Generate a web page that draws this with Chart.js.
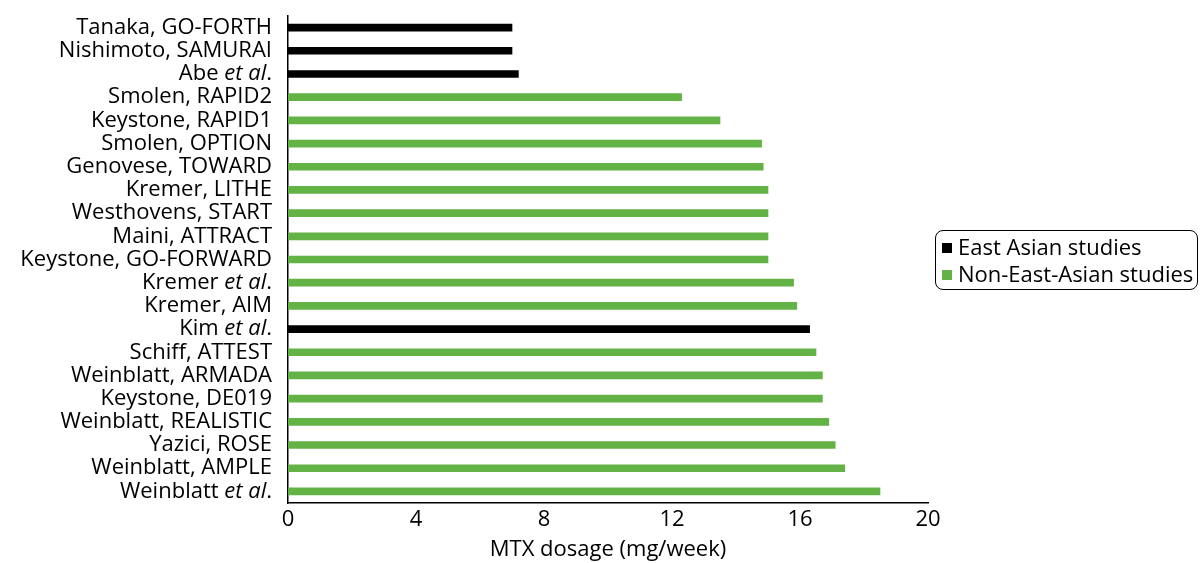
<!DOCTYPE html>
<html>
<head>
<meta charset="utf-8">
<script src="https://cdn.jsdelivr.net/npm/chart.js@4/dist/chart.umd.min.js"></script>
<style>
  body { margin: 0; background: #fff; }
  #wrap { position: relative; width: 1200px; height: 563px; }
  #legend {
    position: absolute; left: 935px; top: 230px; width: 255px;
    border: 1.5px solid #000; border-radius: 8px;
    padding: 2px 0 2px 6px; white-space: nowrap;
    font: 22px "Open Sans", sans-serif; color: #000; line-height: 27px;
  }
  #legend .sw { display: inline-block; width: 10px; height: 10px; margin-right: 6px; vertical-align: 2px; }
</style>
</head>
<body>
<div id="wrap">
  <canvas id="mtxChart" width="1200" height="563"></canvas>
  <div id="legend"></div>
</div>
<script>
  // Estudos (de cima para baixo)
  const studies = [
    'Tanaka, GO-FORTH', 'Nishimoto, SAMURAI', 'Abe et al.', 'Smolen, RAPID2',
    'Keystone, RAPID1', 'Smolen, OPTION', 'Genovese, TOWARD', 'Kremer, LITHE',
    'Westhovens, START', 'Maini, ATTRACT', 'Keystone, GO-FORWARD', 'Kremer et al.',
    'Kremer, AIM', 'Kim et al.', 'Schiff, ATTEST', 'Weinblatt, ARMADA',
    'Keystone, DE019', 'Weinblatt, REALISTIC', 'Yazici, ROSE', 'Weinblatt, AMPLE',
    'Weinblatt et al.'
  ];
  // Dose de MTX (mg/semana)
  const eastAsian = [7.0, 7.0, 7.2, null, null, null, null, null, null, null, null, null,
    null, 16.3, null, null, null, null, null, null, null];
  const nonEastAsian = [null, null, null, 12.3, 13.5, 14.8, 14.85, 15.0, 15.0, 15.0, 15.0, 15.8,
    15.9, null, 16.5, 16.7, 16.7, 16.9, 17.1, 17.4, 18.5];
  const xTicks = [0, 4, 8, 12, 16, 20];

  const FONT = '"Open Sans", sans-serif';
  const SIZE = 22;

  // Desenha os rótulos do eixo Y com "et al" em itálico
  const labelPlugin = {
    id: 'italicLabels',
    afterDraw(chart) {
      const ctx = chart.ctx;
      const y = chart.scales.y;
      ctx.save();
      ctx.fillStyle = '#000';
      ctx.textBaseline = 'middle';
      studies.forEach((lab, i) => {
        const py = y.getPixelForTick(i);
        const parts = lab.split(/(et al)/);
        const fonts = parts.map(p => (p === 'et al' ? 'italic ' : '') + SIZE + 'px ' + FONT);
        let w = 0;
        parts.forEach((p, k) => { ctx.font = fonts[k]; w += ctx.measureText(p).width; });
        let px = y.right - 16 - w;
        parts.forEach((p, k) => {
          ctx.font = fonts[k];
          ctx.fillText(p, px, py);
          px += ctx.measureText(p).width;
        });
      });
      ctx.restore();
    }
  };

  const ctx = document.getElementById('mtxChart').getContext('2d');
  const chart = new Chart(ctx, {
    type: 'bar',
    data: {
      labels: studies,
      datasets: [
        { label: 'East Asian studies', data: eastAsian, backgroundColor: '#000000', barThickness: 7 },
        { label: 'Non-East-Asian studies', data: nonEastAsian, backgroundColor: '#63b246', barThickness: 7 }
      ]
    },
    options: {
      indexAxis: 'y',
      responsive: false,
      animation: false,
      layout: { padding: { top: 16, right: 272, bottom: 0, left: 0 } },
      plugins: { legend: { display: false }, tooltip: { enabled: false } },
      scales: {
        x: {
          stacked: true,
          min: 0, max: 20,
          afterBuildTicks: s => { s.ticks = xTicks.map(v => ({ value: v })); },
          grid: { display: false, drawTicks: false },
          border: { color: '#000', width: 1.5 },
          ticks: { color: '#000', font: { family: FONT, size: SIZE }, padding: 4, maxRotation: 0 },
          title: { display: true, text: 'MTX dosage (mg/week)', color: '#000', font: { family: FONT, size: SIZE }, padding: { top: 2, bottom: 0 } },
          afterFit: s => { s.height = 60; }
        },
        y: {
          stacked: true,
          grid: { display: false, drawTicks: false },
          border: { color: '#000', width: 1.5 },
          ticks: { display: false },
          afterFit: s => { s.width = 288; }
        }
      }
    },
    plugins: [labelPlugin]
  });

  // Legenda em HTML com moldura arredondada
  document.getElementById('legend').innerHTML = chart.data.datasets
    .map(d => `<div><span class="sw" style="background:${d.backgroundColor}"></span>${d.label}</div>`)
    .join('');
</script>
</body>
</html>
